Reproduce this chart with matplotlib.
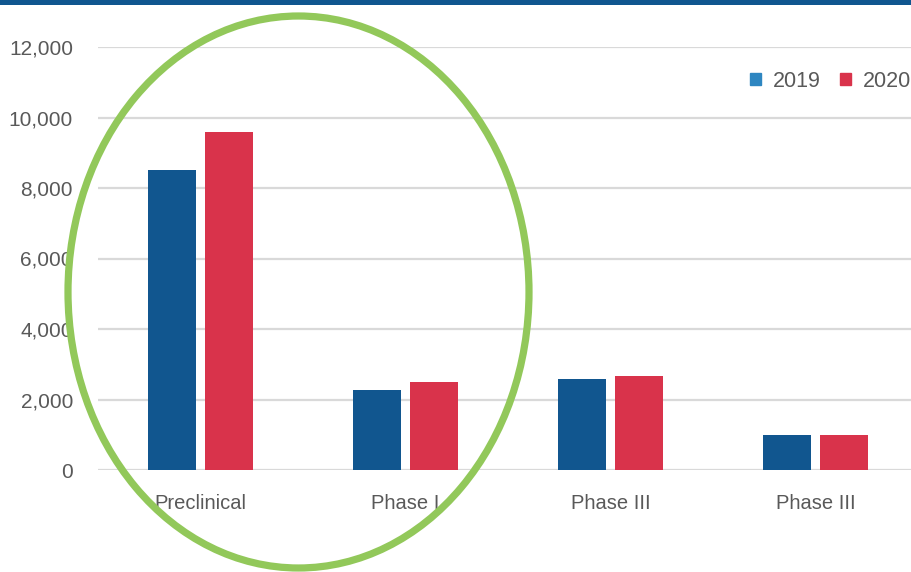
import matplotlib
matplotlib.use("Agg")
import matplotlib.pyplot as plt
import numpy as np
from matplotlib.patches import Ellipse, Rectangle, Patch

categories = ["Preclinical", "Phase I", "Phase III", "Phase III"]
series_names = ["2019", "2020"]
values_2019 = [8500, 2270, 2580, 1000]
values_2020 = [9600, 2500, 2660, 995]
yticks = [0, 2000, 4000, 6000, 8000, 10000, 12000]
ytick_labels = ["0", "2,000", "4,000", "6,000", "8,000", "10,000", "12,000"]

W, H = 912, 572
fig = plt.figure(figsize=(W / 100, H / 100), dpi=100)
plt.rcParams['font.family'] = ['Liberation Sans', 'DejaVu Sans']

ax = fig.add_axes([98 / W, 1 - 470 / H, 820 / W, 423 / H])

bar_blue = "#11568F"
bar_red = "#D9334B"
x = np.arange(len(categories))
bw = 0.234
off = 0.14
ax.bar(x - off, values_2019, width=bw, color=bar_blue, zorder=3)
ax.bar(x + off, values_2020, width=bw, color=bar_red, zorder=3)

ax.set_xlim(-0.5, len(categories) - 0.5)
ax.set_ylim(0, 12000)
ax.set_yticks(yticks)
ax.set_yticklabels(ytick_labels)
ax.set_xticks(x)
ax.set_xticklabels(categories)
ax.tick_params(axis='y', length=0, pad=18, labelsize=15, labelcolor="#595959")
ax.tick_params(axis='x', length=0, pad=17, labelsize=14.5, labelcolor="#595959")
for s in ax.spines.values():
    s.set_visible(False)
ax.yaxis.grid(True, color="#D9D9D9", linewidth=1.6, zorder=0)
ax.set_axisbelow(True)

handles = [Patch(color="#2E86C1", label=series_names[0]),
           Patch(color=bar_red, label=series_names[1])]
fig.legend(handles=handles, loc="center right", bbox_to_anchor=(911 / W, 1 - 81 / H),
           ncol=2, frameon=False, fontsize=15.5, labelcolor="#595959",
           borderpad=0, borderaxespad=0,
           handlelength=0.5, handleheight=0.5, handletextpad=0.55, columnspacing=0.9)

# top band
fig.patches.append(Rectangle((0, 1 - 5 / H), 1, 5 / H, transform=fig.transFigure,
                             facecolor="#10568F", edgecolor="none", zorder=10))

# green ellipse highlight
fig.patches.append(Ellipse((298.5 / W, 1 - 292 / H), 461 / W, 552 / H,
                           transform=fig.transFigure, facecolor="none",
                           edgecolor="#92C85A", linewidth=5.2, zorder=20))

fig.savefig("out.png", dpi=100)
